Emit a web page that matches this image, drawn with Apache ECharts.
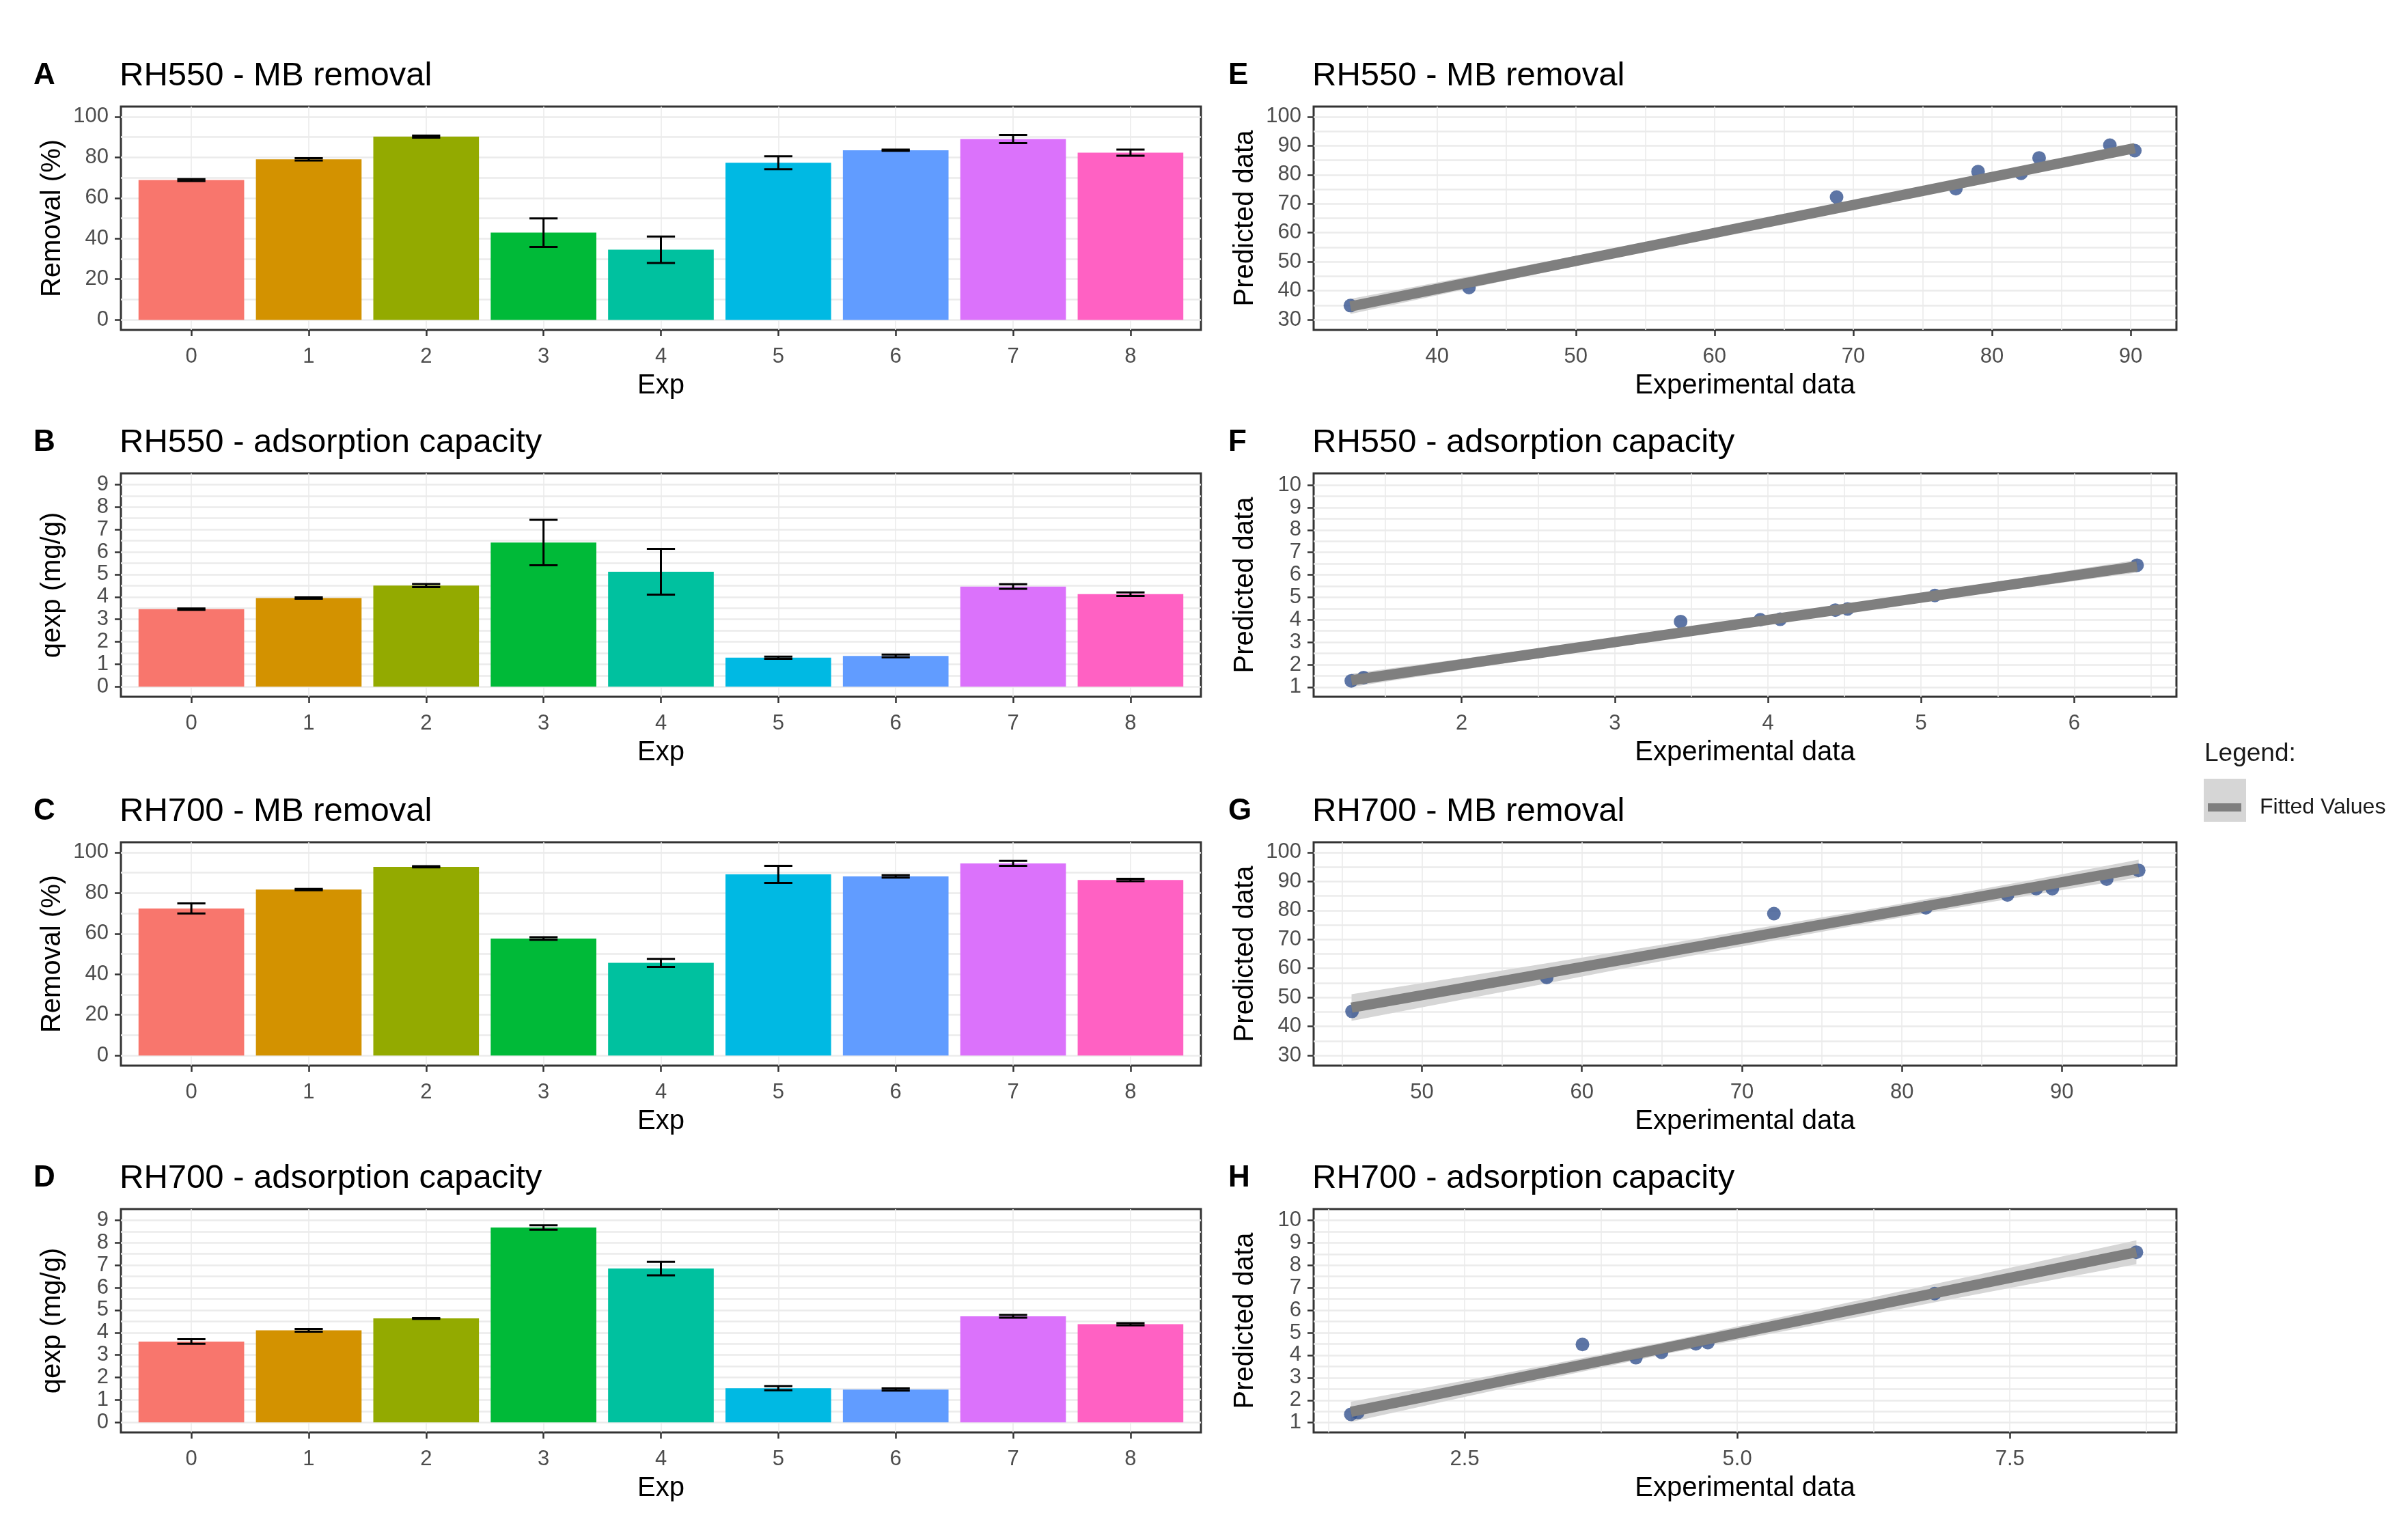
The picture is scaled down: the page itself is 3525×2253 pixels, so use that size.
<!DOCTYPE html>
<html>
<head>
<meta charset="utf-8">
<script src="https://cdn.jsdelivr.net/npm/echarts@6/dist/echarts.min.js"></script>
<style>
html, body { margin: 0; padding: 0; background: #fff; }
#charts { width: 3525px; height: 2253px; }
</style>
</head>
<body>
<div id="charts"></div>
<script>
// experiments and ggplot hue colours
const exps = [0, 1, 2, 3, 4, 5, 6, 7, 8]
const expColors = ['#F8766D', '#D39200', '#93AA00', '#00BA38', '#00C19F', '#00B9E3', '#619CFF', '#DB72FB', '#FF61C3']

// bar panels: mean and sd per experiment
const rh550Removal = [68.8, 79.0, 90.2, 42.9, 34.5, 77.3, 83.5, 89.0, 82.3]
const rh550RemovalSd = [0.5, 0.6, 0.5, 7.0, 6.5, 3.2, 0.3, 2.0, 1.5]
const rh550Qexp = [3.45, 3.95, 4.5, 6.42, 5.12, 1.29, 1.37, 4.46, 4.12]
const rh550QexpSd = [0.03, 0.03, 0.07, 1.01, 1.02, 0.05, 0.06, 0.1, 0.08]
const rh700Removal = [72.4, 81.7, 92.9, 57.6, 45.6, 89.2, 88.2, 94.6, 86.4]
const rh700RemovalSd = [2.5, 0.3, 0.3, 0.6, 2.0, 4.2, 0.6, 1.2, 0.6]
const rh700Qexp = [3.6, 4.1, 4.63, 8.68, 6.85, 1.52, 1.46, 4.72, 4.37]
const rh700QexpSd = [0.1, 0.06, 0.02, 0.1, 0.3, 0.09, 0.05, 0.06, 0.05]

// predicted vs experimental (per experiment 0..8)
const e550RemExp = [68.8, 79.0, 90.3, 42.3, 33.75, 77.4, 83.4, 88.5, 82.1]
const e550RemPred = [72.3, 81.1, 88.3, 41.1, 34.9, 75.2, 85.8, 90.2, 80.5]
const e550QExp = [3.43, 3.95, 4.52, 6.41, 5.09, 1.28, 1.36, 4.44, 4.08]
const e550QPred = [3.92, 4.0, 4.48, 6.43, 5.08, 1.28, 1.42, 4.43, 4.02]
const e700RemExp = [72.0, 81.5, 92.8, 57.8, 45.63, 89.4, 88.4, 94.8, 86.6]
const e700RemPred = [78.9, 80.9, 90.8, 56.9, 45.2, 87.5, 87.5, 93.8, 85.3]
const e700QExp = [3.58, 4.07, 4.62, 8.66, 6.81, 1.52, 1.456, 4.73, 4.305]
const e700QPred = [4.48, 3.89, 4.51, 8.58, 6.74, 1.45, 1.37, 4.56, 4.13]

// fitted lines
const e550RemFitX = [33.75, 90.3]
const e550RemFitY = [34.6, 89.15]
const e550QFitX = [1.28, 6.41]
const e550QFitY = [1.3, 6.38]
const e700RemFitX = [45.6, 94.8]
const e700RemFitY = [46.46, 94.43]
const e700QFitX = [1.456, 8.66]
const e700QFitY = [1.48, 8.58]

// confidence bands
const e550RemBandX = [33.75, 45, 60, 75, 90.3]
const e550RemBandLo = [32.0, 43.6, 58.5, 73.1, 87.45]
const e550RemBandHi = [37.2, 47.4, 61.3, 75.7, 90.85]
const e550QBandX = [1.28, 3, 4.4, 6.41]
const e550QBandLo = [1.0, 2.82, 4.24, 6.10]
const e550QBandHi = [1.6, 3.18, 4.54, 6.66]
const e700RemBandX = [45.6, 55, 65, 78.8, 88, 94.8]
const e700RemBandLo = [41.9, 51.9, 62.5, 76.5, 85.2, 91.4]
const e700RemBandHi = [51.1, 59.3, 68.2, 81.2, 90.4, 97.5]
const e700QBandX = [1.456, 3, 4.4, 6, 7.5, 8.66]
const e700QBandLo = [1.03, 2.68, 4.11, 5.60, 6.99, 8.05]
const e700QBandHi = [1.93, 3.32, 4.65, 6.32, 7.89, 9.11]

// tick labels
const removalTicks = [0, 20, 40, 60, 80, 100]
const removalMinor = [10, 30, 50, 70, 90]
const qexpTicks = [0, 1, 2, 3, 4, 5, 6, 7, 8, 9]
const qexpMinor = [0.5, 1.5, 2.5, 3.5, 4.5, 5.5, 6.5, 7.5, 8.5]
const predRemTicks = [30, 40, 50, 60, 70, 80, 90, 100]
const predRemMinor = [35, 45, 55, 65, 75, 85, 95]
const predQTicks = [1, 2, 3, 4, 5, 6, 7, 8, 9, 10]
const predQMinor = [1.5, 2.5, 3.5, 4.5, 5.5, 6.5, 7.5, 8.5, 9.5]
const e550RemTicks = [40, 50, 60, 70, 80, 90]
const e550RemMinor = [35, 45, 55, 65, 75, 85]
const e550QTicks = [2, 3, 4, 5, 6]
const e550QMinor = [1.5, 2.5, 3.5, 4.5, 5.5, 6.5]
const e700RemTicks = [50, 60, 70, 80, 90]
const e700RemMinor = [45, 55, 65, 75, 85, 95]
const e700QTicks = [2.5, 5.0, 7.5]
const e700QMinor = [1.25, 3.75, 6.25, 8.75]

const FONT = 'Liberation Sans, Arial, Helvetica, sans-serif'
const rowTops = [156, 693, 1233, 1770]
const boxH = 327
const leftCol = { left: 177, width: 1581, letter: 49 }
const rightCol = { left: 1923, width: 1263, letter: 1798 }

const barPanels = [
    { letter: 'A', title: 'RH550 - MB removal', yName: 'Removal (%)', vals: rh550Removal, sds: rh550RemovalSd, yMin: -5, yMax: 105, yTicks: removalTicks, yMinor: removalMinor },
    { letter: 'B', title: 'RH550 - adsorption capacity', yName: 'qexp (mg/g)', vals: rh550Qexp, sds: rh550QexpSd, yMin: -0.45, yMax: 9.5, yTicks: qexpTicks, yMinor: qexpMinor },
    { letter: 'C', title: 'RH700 - MB removal', yName: 'Removal (%)', vals: rh700Removal, sds: rh700RemovalSd, yMin: -5, yMax: 105, yTicks: removalTicks, yMinor: removalMinor },
    { letter: 'D', title: 'RH700 - adsorption capacity', yName: 'qexp (mg/g)', vals: rh700Qexp, sds: rh700QexpSd, yMin: -0.45, yMax: 9.5, yTicks: qexpTicks, yMinor: qexpMinor }
]
const fitPanels = [
    { letter: 'E', title: 'RH550 - MB removal', xv: e550RemExp, yv: e550RemPred, fitX: e550RemFitX, fitY: e550RemFitY,
      bandX: e550RemBandX, bandLo: e550RemBandLo, bandHi: e550RemBandHi,
      xMin: 31.1, xMax: 93.3, xTicks: e550RemTicks, xMinor: e550RemMinor, yMin: 26.5, yMax: 103.5, yTicks: predRemTicks, yMinor: predRemMinor },
    { letter: 'F', title: 'RH550 - adsorption capacity', xv: e550QExp, yv: e550QPred, fitX: e550QFitX, fitY: e550QFitY,
      bandX: e550QBandX, bandLo: e550QBandLo, bandHi: e550QBandHi,
      xMin: 1.034, xMax: 6.667, xTicks: e550QTicks, xMinor: e550QMinor, yMin: 0.57, yMax: 10.52, yTicks: predQTicks, yMinor: predQMinor },
    { letter: 'G', title: 'RH700 - MB removal', xv: e700RemExp, yv: e700RemPred, fitX: e700RemFitX, fitY: e700RemFitY,
      bandX: e700RemBandX, bandLo: e700RemBandLo, bandHi: e700RemBandHi,
      xMin: 43.23, xMax: 97.16, xTicks: e700RemTicks, xMinor: e700RemMinor, yMin: 26.5, yMax: 103.5, yTicks: predRemTicks, yMinor: predRemMinor },
    { letter: 'H', title: 'RH700 - adsorption capacity', xv: e700QExp, yv: e700QPred, fitX: e700QFitX, fitY: e700QFitY,
      bandX: e700QBandX, bandLo: e700QBandLo, bandHi: e700QBandHi,
      xMin: 1.115, xMax: 9.027, xTicks: e700QTicks, xMinor: e700QMinor, yMin: 0.565, yMax: 10.5, yTicks: predQTicks, yMinor: predQMinor,
      xFmt: v => Number(v).toFixed(1) }
]

let grids = [], xAxes = [], yAxes = [], series = [], titles = []

function mainAxis(gi, min, max, ticks, name, isX, nameGap, fmt) {
    return {
        type: 'value', gridIndex: gi, min: min, max: max, position: isX ? 'bottom' : 'left',
        name: name, nameLocation: 'middle', nameGap: nameGap,
        nameTextStyle: { fontSize: 40, color: '#000', fontFamily: FONT },
        axisLine: { show: false, onZero: false },
        axisTick: { show: true, length: 9, customValues: ticks, lineStyle: { color: '#333', width: 2.5 } },
        axisLabel: { customValues: ticks, fontSize: 31, color: '#4d4d4d', margin: isX ? 24 : 18, fontFamily: FONT, formatter: fmt },
        splitLine: { show: true, lineStyle: { color: '#ebebeb', width: isX ? 1.6 : 2.6 } }
    }
}
function minorAxis(gi, min, max, ticks, isX) {
    return {
        type: 'value', gridIndex: gi, min: min, max: max, position: isX ? 'bottom' : 'left',
        axisLine: { show: false, onZero: false },
        axisTick: { show: false, customValues: ticks },
        axisLabel: { show: false },
        splitLine: { show: true, lineStyle: { color: '#ebebeb', width: isX ? 1.6 : 2.6 } }
    }
}
function addPanel(col, row, letter, title) {
    grids.push({ left: col.left, top: rowTops[row], width: col.width, height: boxH, show: true,
        borderColor: '#333', borderWidth: 3, backgroundColor: '#fff' })
    titles.push({ text: letter, left: col.letter, top: rowTops[row] - 70, padding: 0,
        textStyle: { fontSize: 44, fontWeight: 'bold', color: '#000', fontFamily: FONT, lineHeight: 50 } })
    titles.push({ text: title, left: col.left - 2, top: rowTops[row] - 71, padding: 0,
        textStyle: { fontSize: 49, fontWeight: 'normal', color: '#000', fontFamily: FONT, lineHeight: 52 } })
    return grids.length - 1
}

function renderErr(params, api) {
    const x = api.value(0)
    const lo = api.coord([x, api.value(1)])
    const hi = api.coord([x, api.value(2)])
    const half = api.size([0.24, 0])[0] / 2
    const style = { stroke: '#000', lineWidth: 3 }
    return { type: 'group', children: [
        { type: 'line', shape: { x1: lo[0], y1: lo[1], x2: hi[0], y2: hi[1] }, style: style },
        { type: 'line', shape: { x1: lo[0] - half, y1: lo[1], x2: lo[0] + half, y2: lo[1] }, style: style },
        { type: 'line', shape: { x1: hi[0] - half, y1: hi[1], x2: hi[0] + half, y2: hi[1] }, style: style }
    ] }
}
function bandRender(bx, lo, hi) {
    return function (params, api) {
        if (params.dataIndex !== 0) return null
        const pts = []
        for (let i = 0; i < bx.length; i++) pts.push(api.coord([bx[i], hi[i]]))
        for (let i = bx.length - 1; i >= 0; i--) pts.push(api.coord([bx[i], lo[i]]))
        return { type: 'polygon', shape: { points: pts }, style: { fill: '#d6d6d6' } }
    }
}

barPanels.forEach((p, row) => {
    const gi = addPanel(leftCol, row, p.letter, p.title)
    const xi = xAxes.length
    xAxes.push(mainAxis(gi, -0.6, 8.6, exps, 'Exp', true, 62))
    const yi = yAxes.length
    yAxes.push(mainAxis(gi, p.yMin, p.yMax, p.yTicks, p.yName, false, 80))
    yAxes.push(minorAxis(gi, p.yMin, p.yMax, p.yMinor, false))
    series.push({
        type: 'bar', xAxisIndex: xi, yAxisIndex: yi, barWidth: '90%', z: 2,
        data: exps.map((e, i) => ({ value: [e, p.vals[i]], itemStyle: { color: expColors[i] } }))
    })
    series.push({
        type: 'custom', xAxisIndex: xi, yAxisIndex: yi, z: 3, renderItem: renderErr,
        encode: { x: 0, y: [1, 2] },
        data: exps.map((e, i) => [e, p.vals[i] - p.sds[i], p.vals[i] + p.sds[i]])
    })
})

fitPanels.forEach((p, row) => {
    const gi = addPanel(rightCol, row, p.letter, p.title)
    const xi = xAxes.length
    xAxes.push(mainAxis(gi, p.xMin, p.xMax, p.xTicks, 'Experimental data', true, 62, p.xFmt))
    xAxes.push(minorAxis(gi, p.xMin, p.xMax, p.xMinor, true))
    const yi = yAxes.length
    yAxes.push(mainAxis(gi, p.yMin, p.yMax, p.yTicks, 'Predicted data', false, 80))
    yAxes.push(minorAxis(gi, p.yMin, p.yMax, p.yMinor, false))
    series.push({
        type: 'custom', xAxisIndex: xi, yAxisIndex: yi, z: 2, silent: true,
        renderItem: bandRender(p.bandX, p.bandLo, p.bandHi),
        encode: { x: 0, y: [1, 2] },
        data: p.bandX.map((x, i) => [x, p.bandLo[i], p.bandHi[i]])
    })
    series.push({
        type: 'scatter', xAxisIndex: xi, yAxisIndex: yi, z: 3, symbolSize: 20,
        itemStyle: { color: '#34528f' },
        data: p.xv.map((x, i) => [x, p.yv[i]])
    })
    series.push({
        type: 'line', name: 'Fitted Values', xAxisIndex: xi, yAxisIndex: yi, z: 4,
        symbol: 'none', color: '#7f7f7f', lineStyle: { width: 15, color: '#7f7f7f', cap: 'butt' },
        data: p.fitX.map((x, i) => [x, p.fitY[i]])
    })
})

titles.push({ text: 'Legend:', left: 3227, top: 1084, padding: 0,
    textStyle: { fontSize: 37, fontWeight: 'normal', color: '#1a1a1a', fontFamily: FONT, lineHeight: 40 } })

const myChart = echarts.init(document.getElementById('charts'), null, { renderer: 'canvas' })
myChart.setOption({
    backgroundColor: '#fff',
    animation: false,
    title: titles,
    legend: {
        data: ['Fitted Values'], left: 3232, top: 1166, padding: 0, icon: 'rect',
        itemWidth: 49, itemHeight: 12, selectedMode: false,
        textStyle: { fontSize: 32, color: '#1a1a1a', fontFamily: FONT, padding: [0, 0, 0, 22] }
    },
    graphic: [{ type: 'rect', left: 3226, top: 1140, shape: { width: 62, height: 63 }, style: { fill: '#d6d6d6' }, z: 1 }],
    grid: grids,
    xAxis: xAxes,
    yAxis: yAxes,
    series: series
})
</script>
</body>
</html>
